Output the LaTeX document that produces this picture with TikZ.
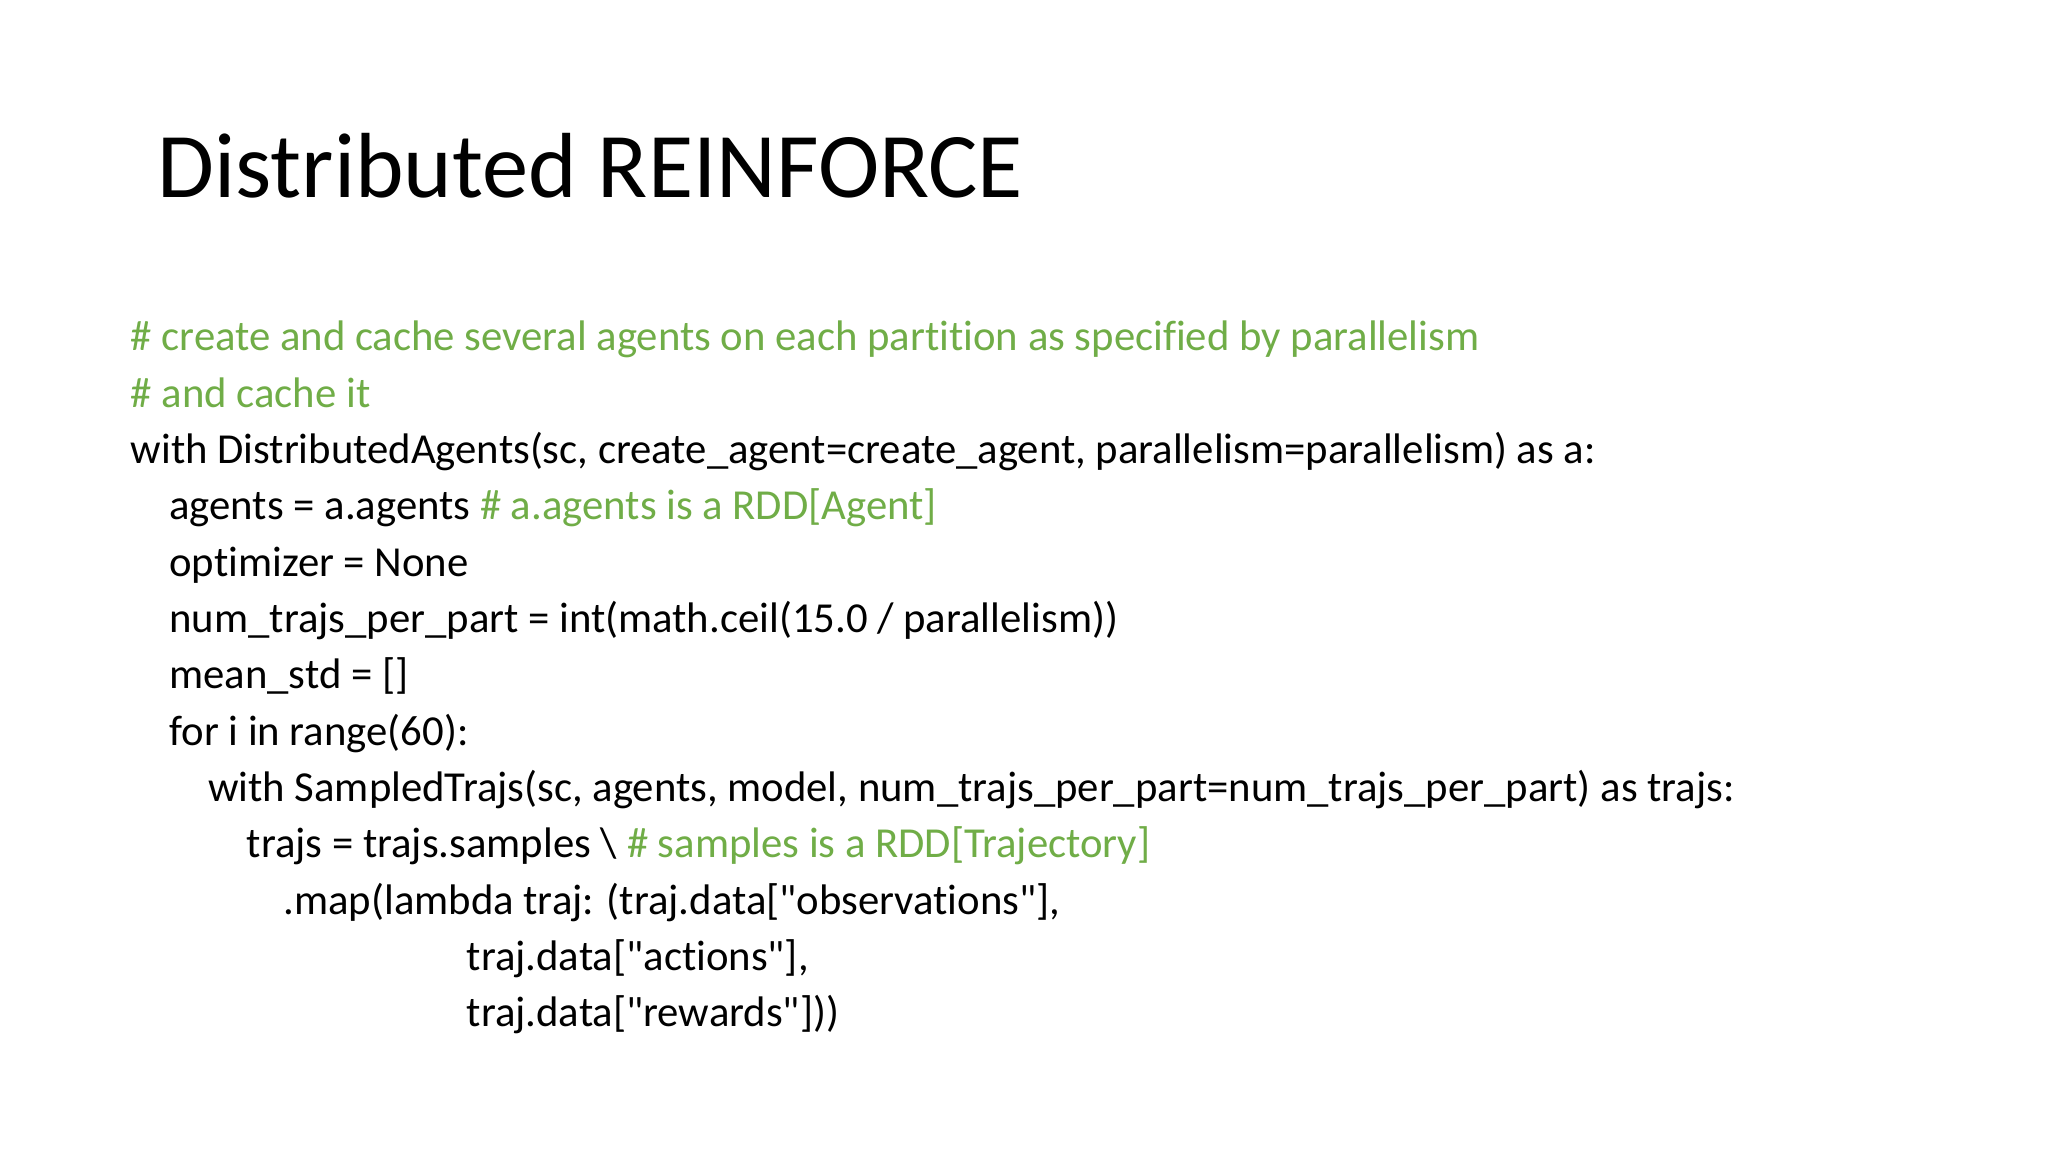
\documentclass[tikz,border=0pt]{standalone}
\usepackage{fontspec}
\setmainfont{Carlito}[Ligatures={TeXOff,CommonOff}]
\usepackage{xcolor}
\usetikzlibrary{math}

\definecolor{cmtgreen}{RGB}{112,173,71}

\tikzset{
  title/.style={anchor=base west, inner sep=0pt, font=\fontsize{26.3}{30}\selectfont},
  code/.style={anchor=base west, inner sep=0pt, font=\fontsize{12.15}{14}\selectfont},
  comment/.style={code, text=cmtgreen},
}

\begin{document}
\begin{tikzpicture}[x=0.01cm, y=-0.01cm]

  \tikzmath{
    \firstrow = 351;  % baseline of the first code line
    \rowgap   = 56.3; % distance between code lines
    \margin   = 130;  % left edge of the code
    \tabw     = 38.7; % width of one indent level
  }

  % page
  \useasboundingbox[fill=white] (0,0) rectangle (2048,1152);

  % heading
  \node[title] (head) at (157,198) {Distributed REINFORCE};

  % comments on top
  \node[comment] (cmtA) at (\margin, \firstrow)
    {\# create and cache several agents on each partition as specified by parallelism};
  \node[comment] (cmtB) at (\margin, {\firstrow+\rowgap})
    {\# and cache it};

  % outer with block
  \node[code] (with) at (\margin, {\firstrow+2*\rowgap})
    {with DistributedAgents(sc, create\_agent=create\_agent, parallelism=parallelism) as a:};
  \node[code] (agents) at ({\margin+\tabw}, {\firstrow+3*\rowgap})
    {agents = a.agents \textcolor{cmtgreen}{\# a.agents is a RDD[Agent]}};
  \node[code] (optim) at ({\margin+\tabw}, {\firstrow+4*\rowgap})
    {optimizer = None};
  \node[code] (numtr) at ({\margin+\tabw}, {\firstrow+5*\rowgap})
    {num\_trajs\_per\_part = int(math.ceil(15.0 / parallelism))};
  \node[code] (meanstd) at ({\margin+\tabw}, {\firstrow+6*\rowgap})
    {mean\_std = []};
  \node[code] (forloop) at ({\margin+\tabw}, {\firstrow+7*\rowgap})
    {for i in range(60):};

  % inner with block
  \node[code] (sampled) at ({\margin+2*\tabw}, {\firstrow+8*\rowgap})
    {with SampledTrajs(sc, agents, model, num\_trajs\_per\_part=num\_trajs\_per\_part) as trajs:};
  \node[code] (trajs) at ({\margin+3*\tabw}, {\firstrow+9*\rowgap})
    {trajs = trajs.samples \textbackslash{} \textcolor{cmtgreen}{\# samples is a RDD[Trajectory]}};
  \node[code] (mapobs) at ({\margin+4*\tabw-2}, {\firstrow+10*\rowgap})
    {.map(lambda traj: (traj.data["observations"],};
  \node[code] (mapact) at (466, {\firstrow+11*\rowgap})
    {traj.data["actions"],};
  \node[code] (maprew) at (466, {\firstrow+12*\rowgap})
    {traj.data["rewards"]))};

\end{tikzpicture}
\end{document}
